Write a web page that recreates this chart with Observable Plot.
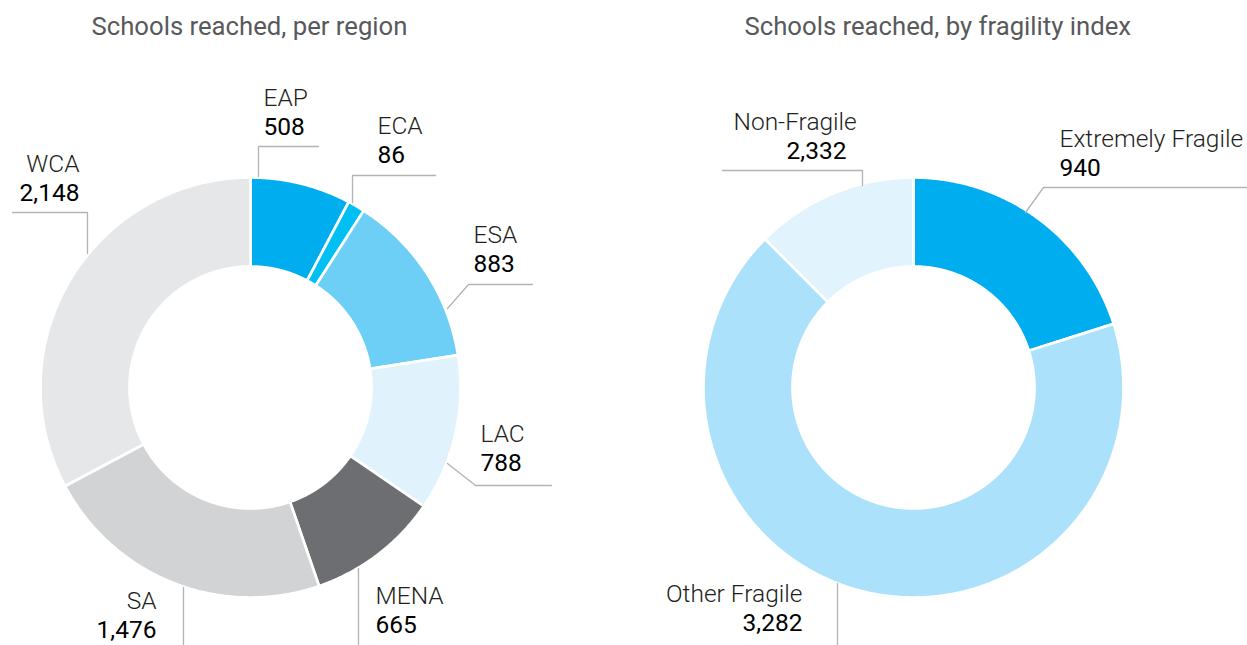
<!DOCTYPE html>
<html>
<head>
<meta charset="utf-8">
<script src="https://cdn.jsdelivr.net/npm/d3@7"></script>
<script src="https://cdn.jsdelivr.net/npm/@observablehq/plot@0.6"></script>
<style>
  html, body { margin: 0; padding: 0; background: #fff; }
  #chart svg { display: block; }
</style>
</head>
<body>
<div id="chart"></div>
<script>
// ---- Data: schools reached, per region ----
const regions = ["EAP", "ECA", "ESA", "LAC", "MENA", "SA", "WCA"];
const regionValues = [508, 86, 883, 788, 665, 1476, 2148];
const regionColors = ["#00aeef", "#00c0f3", "#6dcff6", "#e0f3fc", "#6d6e71", "#d1d3d4", "#e6e7e8"];

// ---- Data: schools reached, by fragility index ----
const fragility = ["Extremely Fragile", "Other Fragile", "Non-Fragile"];
const fragilityValues = [940, 3282, 2332];
// arc shares (%) as drawn in the original picture (its slices do not follow the labelled counts)
const fragilityArcShare = [20.1, 67.4, 12.5];
const fragilityColors = ["#00aeef", "#abe1fa", "#e1f3fc"];

const titles = ["Schools reached, per region", "Schools reached, by fragility index"];

// ---- Layout ----
const W = 1247, H = 645;
const donuts = [
  {cx: 250, cy: 387, r0: 121, r1: 210},
  {cx: 913, cy: 387, r0: 121, r1: 210}
];
const titleLayout = [{x: 91, y: 34}, {x: 744, y: 34}];
// label layout: name/value position, anchor, leader polyline
const regionLabelLayout = [
  {x: 263, y: 105, anchor: "start", lead: [[258,176],[258,146],[318,146]]},
  {x: 377, y: 133, anchor: "start", lead: [[352,202],[352,175],[435,175]]},
  {x: 473, y: 242, anchor: "start", lead: [[447,308],[468,284],[532,284]]},
  {x: 480, y: 441, anchor: "start", lead: [[447,463],[475,485],[551,485]]},
  {x: 375, y: 603, anchor: "start", lead: [[358,568],[358,645]]},
  {x: 156, y: 608, anchor: "end",   lead: [[183,587],[183,645]]},
  {x: 79,  y: 171, anchor: "end",   lead: [[87,253],[87,212],[12,212]]}
];
const fragilityLabelLayout = [
  {x: 1059, y: 146, anchor: "start", lead: [[1025,212],[1043,187],[1247,187]]},
  {x: 802,  y: 601, anchor: "end",   lead: [[837,583],[837,645]]},
  {x: 733,  y: 129, anchor: "start", valueX: 846, valueAnchor: "end", lead: [[722,170],[862,170],[862,185]]}
];
const lineGap = 29;

// ---- Build slice polygons from values ----
function slicePoints(names, sizes, d) {
  const arcs = d3.pie().sort(null).value(v => v)(sizes);
  const pts = [];
  arcs.forEach((a, i) => {
    const n = Math.max(4, Math.ceil((a.endAngle - a.startAngle) / 0.005));
    const at = (r, t) => ({name: names[i], x: d.cx + r * Math.sin(t), y: d.cy - r * Math.cos(t)});
    for (let k = 0; k <= n; k++) pts.push(at(d.r1, a.startAngle + (a.endAngle - a.startAngle) * k / n));
    for (let k = n; k >= 0; k--) pts.push(at(d.r0, a.startAngle + (a.endAngle - a.startAngle) * k / n));
    pts.push(at(d.r1, a.startAngle));
  });
  return pts;
}

const slices = [
  ...slicePoints(regions, regionValues, donuts[0]),
  ...slicePoints(fragility, fragilityArcShare, donuts[1])
];

const fmt = d3.format(",");
const labels = [
  ...regions.map((name, i) => ({name, value: fmt(regionValues[i]), ...regionLabelLayout[i]})),
  ...fragility.map((name, i) => ({name, value: fmt(fragilityValues[i]), ...fragilityLabelLayout[i]}))
];
const leaders = labels.flatMap(l => l.lead.map(([x, y]) => ({name: l.name, x, y})));
const nameStart = labels.filter(l => l.anchor === "start");
const nameEnd = labels.filter(l => l.anchor === "end");
const valStart = labels.filter(l => (l.valueAnchor || l.anchor) === "start");
const valEnd = labels.filter(l => (l.valueAnchor || l.anchor) === "end");

const titleData = titles.map((t, i) => ({text: t, ...titleLayout[i]}));

const labelFont = "Roboto, 'Liberation Sans', sans-serif";
const labelSize = 24.5;

const chart = Plot.plot({
  width: W,
  height: H,
  margin: 0,
  style: {fontFamily: labelFont, background: "#fff"},
  x: {domain: [0, W], range: [0, W], axis: null},
  y: {domain: [0, H], range: [0, H], axis: null},
  color: {type: "ordinal", domain: [...regions, ...fragility], range: [...regionColors, ...fragilityColors]},
  marks: [
    Plot.line(slices, {x: "x", y: "y", z: "name", fill: "name", stroke: "white", strokeWidth: 2.7, strokeLinejoin: "miter", curve: "linear"}),
    Plot.line(leaders, {x: "x", y: "y", z: "name", stroke: "#b3b3b3", strokeWidth: 1.3, curve: "linear"}),
    Plot.text(titleData, {x: "x", y: "y", text: "text", textAnchor: "start", lineAnchor: "bottom", fontSize: 25.7, fill: "#58595b"}),
    Plot.text(nameStart, {x: "x", y: "y", text: "name", textAnchor: "start", lineAnchor: "bottom", fontSize: labelSize, fontWeight: 300, fill: "#231f20"}),
    Plot.text(nameEnd, {x: "x", y: "y", text: "name", textAnchor: "end", lineAnchor: "bottom", fontSize: labelSize, fontWeight: 300, fill: "#231f20"}),
    Plot.text(valStart, {x: d => d.valueX ?? d.x, y: d => d.y + lineGap, text: "value", textAnchor: "start", lineAnchor: "bottom", fontSize: labelSize, fontWeight: 400, fill: "#000"}),
    Plot.text(valEnd, {x: d => d.valueX ?? d.x, y: d => d.y + lineGap, text: "value", textAnchor: "end", lineAnchor: "bottom", fontSize: labelSize, fontWeight: 400, fill: "#000"})
  ]
});
document.getElementById("chart").append(chart);
</script>
</body>
</html>
